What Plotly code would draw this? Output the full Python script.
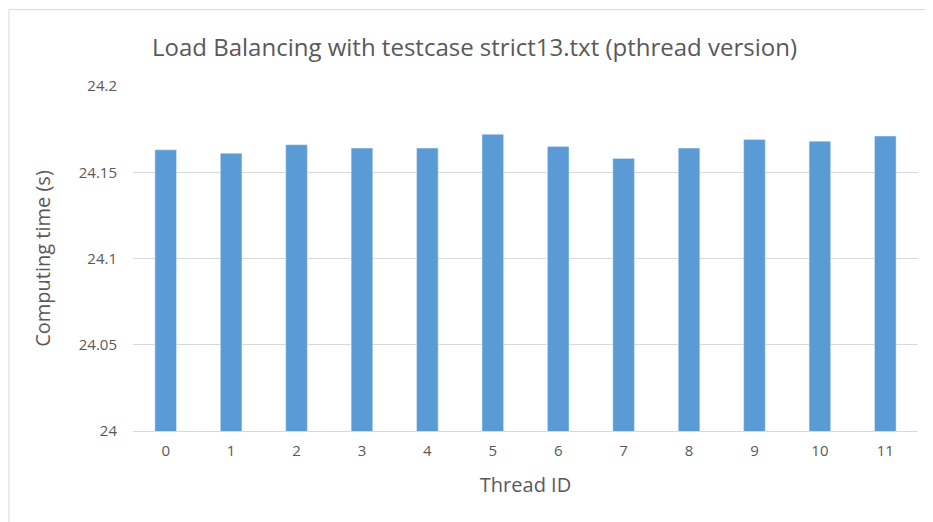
import plotly.graph_objects as go

thread_ids = [str(i) for i in range(12)]
times = [24.163, 24.161, 24.166, 24.164, 24.164, 24.172, 24.165, 24.158, 24.164, 24.169, 24.168, 24.171]

fig = go.Figure(go.Bar(x=thread_ids, y=times, marker_color="#5b9bd5", width=0.33))

fig.update_layout(
    width=933, height=522,
    paper_bgcolor="white", plot_bgcolor="white",
    font=dict(family="Open Sans, Liberation Sans, sans-serif", color="#595959"),
    title=dict(text="Load Balancing with testcase strict13.txt (pthread version)",
               x=0.5, xanchor="center", yref="container", y=1 - 40 / 522, yanchor="middle",
               font=dict(size=24, color="#595959")),
    margin=dict(l=125, r=23, t=78, b=99),
    showlegend=False,
    shapes=[dict(type="rect", xref="paper", yref="paper", x0=-0.158, x1=1.027, y0=-0.284, y1=1.222,
                 line=dict(color="#d9d9d9", width=1))],
)
fig.update_xaxes(title=dict(text="Thread ID", font=dict(size=20), standoff=18), tickfont=dict(size=15),
                 showline=True, linecolor="#d9d9d9", ticks="outside", ticklen=6, tickcolor="white")
fig.update_yaxes(title=dict(text="Computing time (s)", font=dict(size=20), standoff=22), tickfont=dict(size=15),
                 range=[24, 24.2], tickvals=[24, 24.05, 24.1, 24.15, 24.2],
                 ticktext=["24", "24.05", "24.1", "24.15", "24.2"],
                 gridcolor="#d9d9d9", zeroline=False, ticks="outside", ticklen=12, tickcolor="white")

fig.write_html("out.html")
